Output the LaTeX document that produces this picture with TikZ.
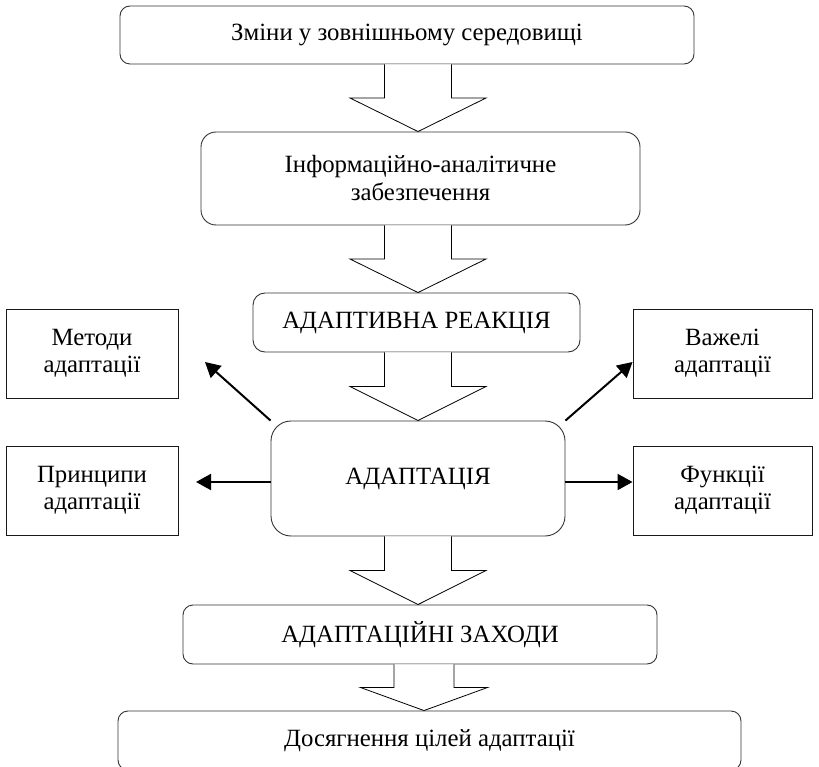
\documentclass[tikz,border=0pt]{standalone}
\usepackage{fontspec}
\setmainfont{Liberation Serif}
\usetikzlibrary{arrows.meta,calc}
\tikzset{
  rbox/.style={draw=black!80, line width=.9pt, rounded corners=#1, align=center, inner sep=0pt, font=\fontsize{24.8}{28}\selectfont},
  rbox/.default=10pt,
  sbox/.style={draw=black!90, line width=.9pt, align=center, inner sep=0pt, minimum width=172pt, minimum height=89pt, font=\fontsize{24.8}{27}\selectfont},
  blockarr/.style={draw=black, fill=white, line width=.8pt, line join=miter},
  sidearr/.style={line width=2pt, -{Triangle[length=15pt,width=16pt]}}
}
\begin{document}
\begin{tikzpicture}[x=1pt,y=-1pt]
    \useasboundingbox (0,0) rectangle (819,767);
    % the middle column, top to bottom
    \node[rbox, minimum width=574pt, minimum height=58pt] (chg) at (407,35) {Зміни у зовнішньому середовищі};
    \node[rbox=15pt, minimum width=439pt, minimum height=93pt] (info) at (420.5,178.5) {Інформаційно-аналітичне\\забезпечення};
    \node[rbox=12pt, minimum width=327pt, minimum height=59pt] (react) at (416.5,322.5) {АДАПТИВНА РЕАКЦІЯ};
    \node[rbox=20pt, minimum width=294pt, minimum height=115pt] (adapt) at (418,478.5) {АДАПТАЦІЯ};
    \node[rbox, minimum width=474pt, minimum height=59pt] (meas) at (420,634.5) {АДАПТАЦІЙНІ ЗАХОДИ};
    \node[rbox, minimum width=623pt, minimum height=59pt] (goal) at (429.5,740.5) {Досягнення цілей адаптації};
    % the four boxes at the sides
    \node[sbox] (meth) at (92,353.5) {Методи\\адаптації};
    \node[sbox] (princ) at (92,490.5) {Принципи\\адаптації};
    \node[sbox, minimum width=179pt] (lev) at (722.5,353.5) {Важелі\\адаптації};
    \node[sbox, minimum width=179pt] (func) at (722.5,490.5) {Функції\\адаптації};
    % wide hollow arrows between the boxes
    \coordinate (ax) at (418,0);
    \coordinate (bx) at (424,0);
    \foreach \a/\b in {chg/info,info/react,react/adapt,adapt/meas}{
      \path (\a.south -| ax) coordinate (t) (\b.north -| ax) coordinate (h) ($(t)!.5!(h)$) coordinate (m);
      \draw[blockarr] ([xshift=-33.5pt]t) -- ([xshift=-33.5pt]m) -- ([xshift=-68pt]m) -- (h)
        -- ([xshift=68pt]m) -- ([xshift=33.5pt]m) -- ([xshift=33.5pt]t);};
    \path (meas.south -| bx) coordinate (t) (goal.north -| bx) coordinate (h) ($(t)!.5!(h)$) coordinate (m);
    \draw[blockarr] ([xshift=-30pt]t) -- ([xshift=-30pt]m) -- ([xshift=-63.5pt]m) -- (h)
      -- ([xshift=63.5pt]m) -- ([xshift=30pt]m) -- ([xshift=30pt]t);
    % arrows out of the adaptation box
    \coordinate (methtip) at (205,362);
    \coordinate (princtip) at (196,482);
    \draw[sidearr] (adapt.north west) -- (methtip);
    \draw[sidearr] (adapt.north east) -- ([yshift=-8.5pt]lev.west);
    \draw[sidearr] ([yshift=-3.5pt]adapt.west) -- (princtip);
    \draw[sidearr] ([yshift=-3.5pt]adapt.east) -- ([yshift=-3.5pt]adapt.east -| func.west);
  \end{tikzpicture}
\end{document}
